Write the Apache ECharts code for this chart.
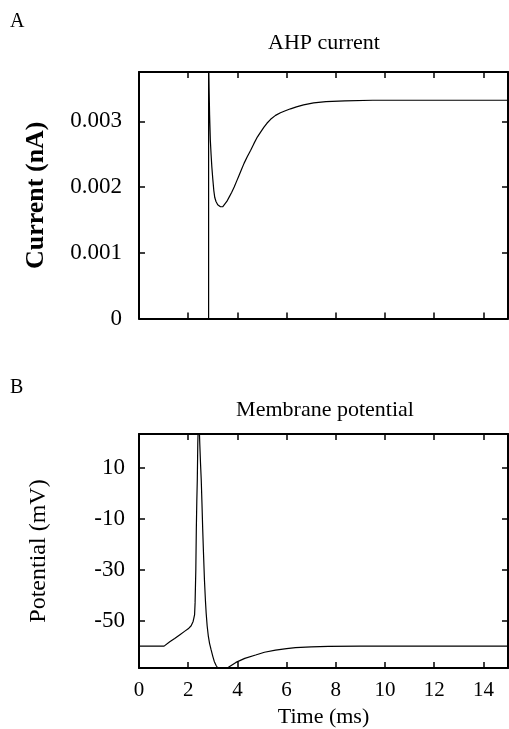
<!DOCTYPE html>
<html>
<head>
<meta charset="utf-8">
<script src="https://cdn.jsdelivr.net/npm/echarts@6/dist/echarts.min.js"></script>
<style>
  html,body{margin:0;padding:0;background:#fff;}
  #main{width:509px;height:729px;}
</style>
</head>
<body>
<div id="main"></div>
<script>
// time axis ticks (ms)
var timeTicks = [0, 2, 4, 6, 8, 10, 12, 14];
var currentTicks = [0, 0.001, 0.002, 0.003];
var potentialTicks = [-50, -30, -10, 10];

// AHP current (nA) vs time (ms)
var curT = [0, 2.83, 2.83, 2.85, 2.87, 2.90, 2.93, 2.96, 3.0, 3.04, 3.08, 3.13, 3.2, 3.31, 3.4, 3.47, 3.57, 3.67, 3.77, 3.87, 3.97, 4.07, 4.17, 4.27, 4.4, 4.54, 4.67, 4.81, 4.95, 5.08, 5.2, 5.35, 5.55, 5.75, 5.95, 6.16, 6.4, 6.69, 7.1, 7.6, 8.37, 9.5, 11, 13, 15];
var curI = [0, 0, 0.0040, 0.0035, 0.0031, 0.00271, 0.00250, 0.00231, 0.00212, 0.00195, 0.00184, 0.00178, 0.00173, 0.00170, 0.00170, 0.00172, 0.00178, 0.00185, 0.00192, 0.00200, 0.00209, 0.00218, 0.00227, 0.00236, 0.00246, 0.00256, 0.00266, 0.00276, 0.00284, 0.00291, 0.00297, 0.00303, 0.00309, 0.00313, 0.00316, 0.00319, 0.00322, 0.00325, 0.00328, 0.00330, 0.00331, 0.00332, 0.00332, 0.00332, 0.00332];

// membrane potential (mV) vs time (ms)
var potT = [0, 1.02, 1.1, 1.25, 1.45, 1.65, 1.85, 2.0, 2.12, 2.2, 2.23, 2.26, 2.28, 2.31, 2.33, 2.35, 2.37, 2.39, 2.41, 2.43, 2.45, 2.47, 2.5, 2.53, 2.56, 2.59, 2.62, 2.66, 2.7, 2.73, 2.77, 2.82, 2.87, 2.93, 3.0, 3.06, 3.13, 3.2, 3.3, 3.42, 3.53, 3.7, 3.94, 4.3, 4.74, 5.1, 5.55, 6.0, 6.36, 7.0, 7.7, 9, 10, 15];
var potV = [-60, -60, -59.3, -58.3, -57, -55.6, -54.2, -53.2, -52, -50.3, -49, -47.6, -43, -30, -14.2, -3, 5.4, 19.8, 27, 30, 26, 19.8, 12, 5.4, -4, -14.2, -23, -33.9, -42, -47, -52, -56.2, -59, -61.4, -64, -66, -67.5, -68.6, -69.3, -69.4, -69, -67.9, -66.4, -64.8, -63.5, -62.4, -61.6, -61, -60.6, -60.3, -60.1, -60, -60, -60];

function pairs(xs, ys){
	var out = [];
	for (var i = 0; i < xs.length; i++) {
		out.push([xs[i], ys[i]]);
	}
	return out;
}

var FONT = 'Liberation Serif';
var myChart = echarts.init(document.getElementById('main'));

function frameAxis(grid, pos, ticks, min, max, labels){
	return {
		type: 'value', gridIndex: grid, position: pos, min: min, max: max,
		axisLine: {show: true, onZero: false, lineStyle: {color: '#000', width: 2}},
		axisTick: {show: true, inside: true, length: 6, customValues: ticks, lineStyle: {color: '#000', width: 1.5}},
		axisLabel: labels || {show: false},
		splitLine: {show: false}
	};
}

var option = {
	animation: false,
	backgroundColor: '#fff',
	grid: [
		{left: 139, right: 1, top: 72, height: 246.5},
		{left: 139, right: 1, top: 434, height: 234}
	],
	xAxis: [
		frameAxis(0, 'bottom', timeTicks, 0, 15),
		frameAxis(0, 'top', timeTicks, 0, 15),
		Object.assign(frameAxis(1, 'bottom', timeTicks, 0, 15, {
			show: true, customValues: timeTicks, margin: 12,
			fontFamily: FONT, fontSize: 21, color: '#000'
		}), {
			name: 'Time (ms)', nameLocation: 'middle', nameGap: 38,
			nameTextStyle: {fontFamily: FONT, fontSize: 22, color: '#000'}
		}),
		frameAxis(1, 'top', timeTicks, 0, 15)
	],
	yAxis: [
		Object.assign(frameAxis(0, 'left', currentTicks, 0, 0.00375, {
			show: true, customValues: currentTicks, margin: 17,
			fontFamily: FONT, fontSize: 23, color: '#000',
			formatter: function(v){ return v === 0 ? '0' : v.toFixed(3); }
		}), {
			name: 'Current (nA)', nameLocation: 'middle', nameGap: 90, nameRotate: 90,
			nameTextStyle: {fontFamily: FONT, fontSize: 26, fontWeight: 'bold', color: '#000'}
		}),
		frameAxis(0, 'right', currentTicks, 0, 0.00375),
		Object.assign(frameAxis(1, 'left', potentialTicks, -68.6, 23.4, {
			show: true, customValues: potentialTicks, margin: 14,
			fontFamily: FONT, fontSize: 23, color: '#000'
		}), {
			name: 'Potential (mV)', nameLocation: 'middle', nameGap: 88, nameRotate: 90,
			nameTextStyle: {fontFamily: FONT, fontSize: 24, color: '#000'}
		}),
		frameAxis(1, 'right', potentialTicks, -68.6, 23.4)
	],
	graphic: [
		{type: 'text', left: 10, top: 12, style: {text: 'A', font: '20px "Liberation Serif"', fill: '#000'}},
		{type: 'text', left: 10, top: 378, style: {text: 'B', font: '20px "Liberation Serif"', fill: '#000'}},
		{type: 'text', x: 324, y: 43, style: {text: 'AHP current', font: '22px "Liberation Serif"', fill: '#000', align: 'center', verticalAlign: 'middle'}},
		{type: 'text', x: 325, y: 410, style: {text: 'Membrane potential', font: '22px "Liberation Serif"', fill: '#000', align: 'center', verticalAlign: 'middle'}}
	],
	series: [
		{
			type: 'line', xAxisIndex: 0, yAxisIndex: 0, data: pairs(curT, curI),
			showSymbol: false, smooth: false, clip: true,
			lineStyle: {color: '#000', width: 1.2}
		},
		{
			type: 'line', xAxisIndex: 2, yAxisIndex: 2, data: pairs(potT, potV),
			showSymbol: false, smooth: false, clip: true,
			lineStyle: {color: '#000', width: 1.2}
		}
	]
};
myChart.setOption(option);
</script>
</body>
</html>
